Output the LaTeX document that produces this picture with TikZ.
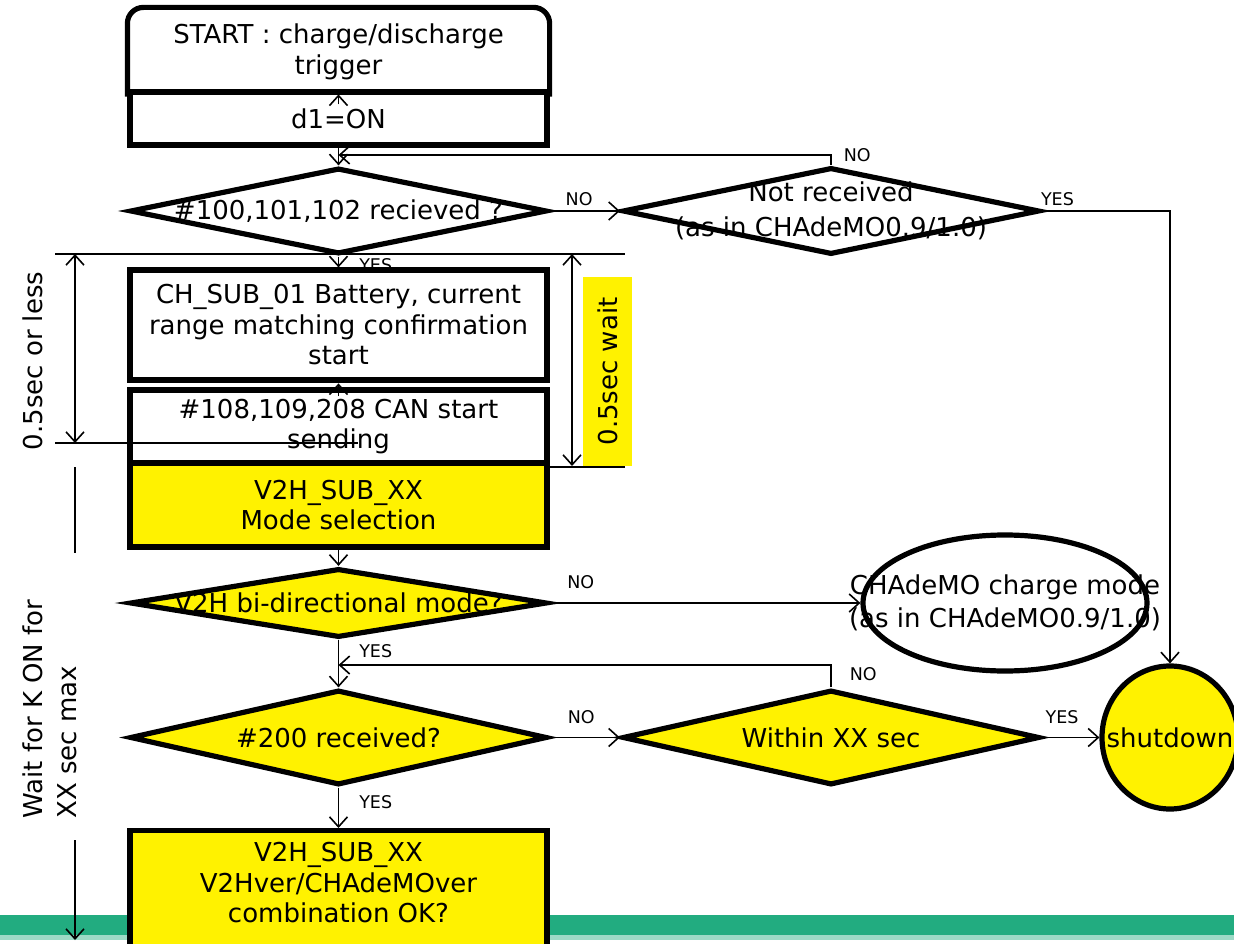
\documentclass[tikz,border=0pt]{standalone}
\usepackage{fontspec}
\setmainfont{DejaVu Sans}
\usetikzlibrary{shapes.geometric, arrows.meta, positioning}
\definecolor{BandGreen}{RGB}{34,172,128}
\newcommand\BigText{\fontsize{26}{30.5}\selectfont}
\newcommand\TagText{\fontsize{17.5}{19}\selectfont}
\tikzset{
    ProcBox/.style={draw, rectangle, line width=5.2pt, fill=white, minimum width=417pt, inner sep=0pt, align=center, font=\BigText},
    ProcYellow/.style={ProcBox, fill=yellow},
    Decision/.style={draw, diamond, line width=5.2pt, fill=white, minimum width=417pt, inner sep=0pt},
    DecisionYellow/.style={Decision, fill=yellow},
    Terminal/.style={draw, ellipse, line width=5.2pt, fill=white, inner sep=0pt},
    TerminalYellow/.style={Terminal, fill=yellow},
    BigLbl/.style={font=\BigText, align=center, inner sep=0pt},
    DimText/.style={font=\BigText, inner sep=0pt},
    Tag/.style={font=\TagText, inner sep=0pt}
}
\begin{document}
\begin{tikzpicture}[x=1pt, y=-1pt, line width=1.6pt, >={Straight Barb[length=10pt,width=18pt]}]
    \useasboundingbox (0,0) rectangle (1234,944);
    \clip (0,0) rectangle (1234,944);
    \fill[BandGreen] (0,915) rectangle (1234,935);
    \fill[BandGreen!45] (0,935) rectangle (1234,940);

    \node (Start) [ProcBox, draw=none, minimum height=84pt] at (338.5,52) {START : charge/discharge\\trigger};
    \draw[line width=5.2pt, rounded corners=16pt] (Start.south west) -- (Start.north west) -- (Start.north east) -- (Start.south east);
    \node (DOne) [ProcBox, minimum height=53pt] at (338.5,118.5) {d1=ON};
    \draw[->] ([yshift=-15pt]DOne.north) -- ([yshift=-5pt]DOne.north);

    \node (Recv) [Decision, minimum height=86pt, label={[BigLbl]center:{\#100,101,102 recieved ?}}] at (338.5,211) {};
    \node (NotRecv) [Decision, minimum height=87pt, label={[BigLbl]center:{Not received\\[4.5pt](as in CHAdeMO0.9/1.0)}}] at (831,211) {};

    \node (ChSub) [ProcBox, minimum height=110pt] at (338.5,325) {CH\_SUB\_01 Battery, current\\range matching confirmation\\start};
    \node (CanStart) [ProcBox, minimum height=73pt] at (338.5,426.5) {\#108,109,208 CAN start\\sending};
    \node (ModeSel) [ProcYellow, minimum height=84pt] at (338.5,505) {V2H\_SUB\_XX\\Mode selection};
    \draw[->] ([yshift=-9pt]CanStart.north) -- ([yshift=4pt]CanStart.north);

    \node (BiDir) [DecisionYellow, minimum height=69pt, label={[BigLbl]center:{V2H bi-directional mode?}}] at (338.5,603) {};
    \node (ChaMode) [Terminal, minimum width=284pt, minimum height=136pt, label={[BigLbl]center:{CHAdeMO charge mode\\[2.5pt](as in CHAdeMO0.9/1.0)}}] at (1005,603) {};

    \node (Recv200) [DecisionYellow, minimum height=95pt, label={[BigLbl]center:{\#200 received?}}] at (338.5,737.5) {};
    \node (Within) [DecisionYellow, minimum height=95pt, label={[BigLbl]center:{Within XX sec}}] at (831,737.5) {};
    \node (Shutdown) [TerminalYellow, minimum width=136pt, minimum height=143pt, label={[BigLbl]center:{shutdown}}] at (1170,737.5) {};

    \node (LastBox) [ProcYellow, anchor=north, minimum height=130pt] at (338.5,828) {};
    \node (LastText) [BigLbl] at (338.5,883) {V2H\_SUB\_XX\\V2Hver/CHAdeMOver\\combination OK?};

    \coordinate (BackTop) at (338.5,155);
    \coordinate (BackMid) at (338.5,665);

    \draw[->] (DOne.south) -- (Recv.north);
    \draw[->] (Recv.east) -- node[Tag, pos=0.42, above=4pt] {NO} (NotRecv.west);
    \draw[->] (NotRecv.north) |- node[Tag, pos=0.5, right=12pt] {NO} (BackTop);
    \draw[->] (NotRecv.east) -| node[Tag, pos=0.06, above=4pt] {YES} (Shutdown.north);
    \draw[->] (Recv.south) -- node[Tag, pos=0.8, right=20pt] {YES} (ChSub.north);
    \draw[->] (ModeSel.south) -- (BiDir.north);
    \draw[->] (BiDir.east) -- node[Tag, pos=0.1, above=13pt] {NO} (ChaMode.west);
    \draw[->] (BiDir.south) -- node[Tag, pos=0.24, right=20pt] {YES} (Recv200.north);
    \draw[->] (Within.north) |- node[Tag, pos=0.3, right=18pt] {NO} (BackMid);
    \draw[->] (Recv200.east) -- node[Tag, pos=0.45, above=13pt] {NO} (Within.west);
    \draw[->] (Within.east) -- node[Tag, pos=0.35, above=13pt] {YES} (Shutdown.west);
    \draw[->] (Recv200.south) -- node[Tag, pos=0.35, right=20pt] {YES} (LastBox.north);

    \draw (55,254) -- (625,254);
    \draw (55,443) -- (358,443);
    \draw (545,467) -- (625,467);
    \draw[<->] (75,254) -- (75,443);
    \draw[<->] (572,254) -- (572,466);
    \node (LessLbl) [DimText, rotate=90] at (33,361) {0.5sec or less};
    \node (WaitLbl) [DimText, rotate=90, fill=yellow, minimum width=189pt, minimum height=49pt] at (607.5,371.5) {0.5sec wait};
    \draw (75,467) -- (75,553);
    \node (KonLbl) [DimText, rotate=90, align=left] at (50,709) {Wait for K ON for\\[4pt]XX sec max};
    \draw[->] (75,840) -- (75,940);
\end{tikzpicture}
\end{document}
